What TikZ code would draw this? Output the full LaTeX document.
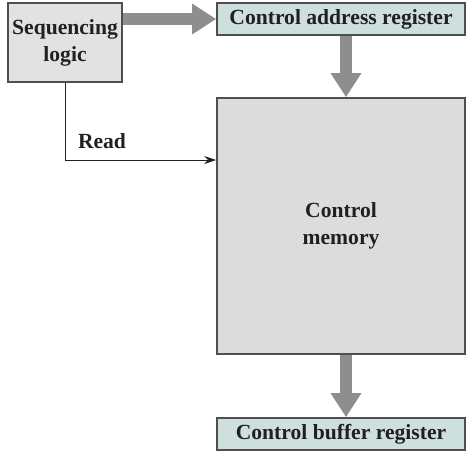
\documentclass[tikz,border=0pt]{standalone}
\usepackage{fontspec}
\setmainfont{Liberation Serif}
\usetikzlibrary{arrows.meta,positioning}
\definecolor{seqgray}{HTML}{E2E2E2}
\definecolor{memgray}{HTML}{DCDCDC}
\definecolor{regteal}{HTML}{CDE0DD}
\definecolor{flowgray}{HTML}{8E8E8E}
\definecolor{edgegray}{HTML}{4F4F4F}
\definecolor{inkblack}{HTML}{231F20}

\begin{document}
\begin{tikzpicture}[x=0.5pt,y=-0.5pt, every node/.style={align=center,text=inkblack,font=\fontsize{10.8}{13.5}\selectfont\bfseries},
  unitbox/.style={draw=edgegray,line width=0.8pt,inner sep=0pt},
  bigflow/.style={draw=flowgray,line width=6pt,-{Triangle[width=14.5pt,length=12pt]}}]
\useasboundingbox (0,0) rectangle (466,452);
\node[unitbox,fill=seqgray,minimum width=57pt,minimum height=39.5pt] (seq) at (65,42.5) {Sequencing\\logic};
\node[unitbox,fill=regteal,minimum width=124pt,minimum height=16pt] (car) at (341,19) {Control address register};
\node[unitbox,fill=memgray,minimum width=124pt,minimum height=128pt] (mem) at (341,226) {Control\\memory};
\node[unitbox,fill=regteal,minimum width=124pt,minimum height=16pt] (cbr) at (341,434) {Control buffer register};
\coordinate (rd) at (mem.west |- 0,160);
\node (readlbl) at (102,141) {Read};
\draw[bigflow] (seq.east |- car.west) -- (car.west);
\draw[bigflow] ([xshift=2.5pt]car.south) -- ([xshift=2.5pt]mem.north);
\draw[bigflow] ([xshift=2.5pt]mem.south) -- ([xshift=2.5pt]cbr.north);
\draw[inkblack,line width=0.5pt,-{Stealth[length=6pt,width=4pt]}] (seq.south) |- (rd);
\end{tikzpicture}
\end{document}
